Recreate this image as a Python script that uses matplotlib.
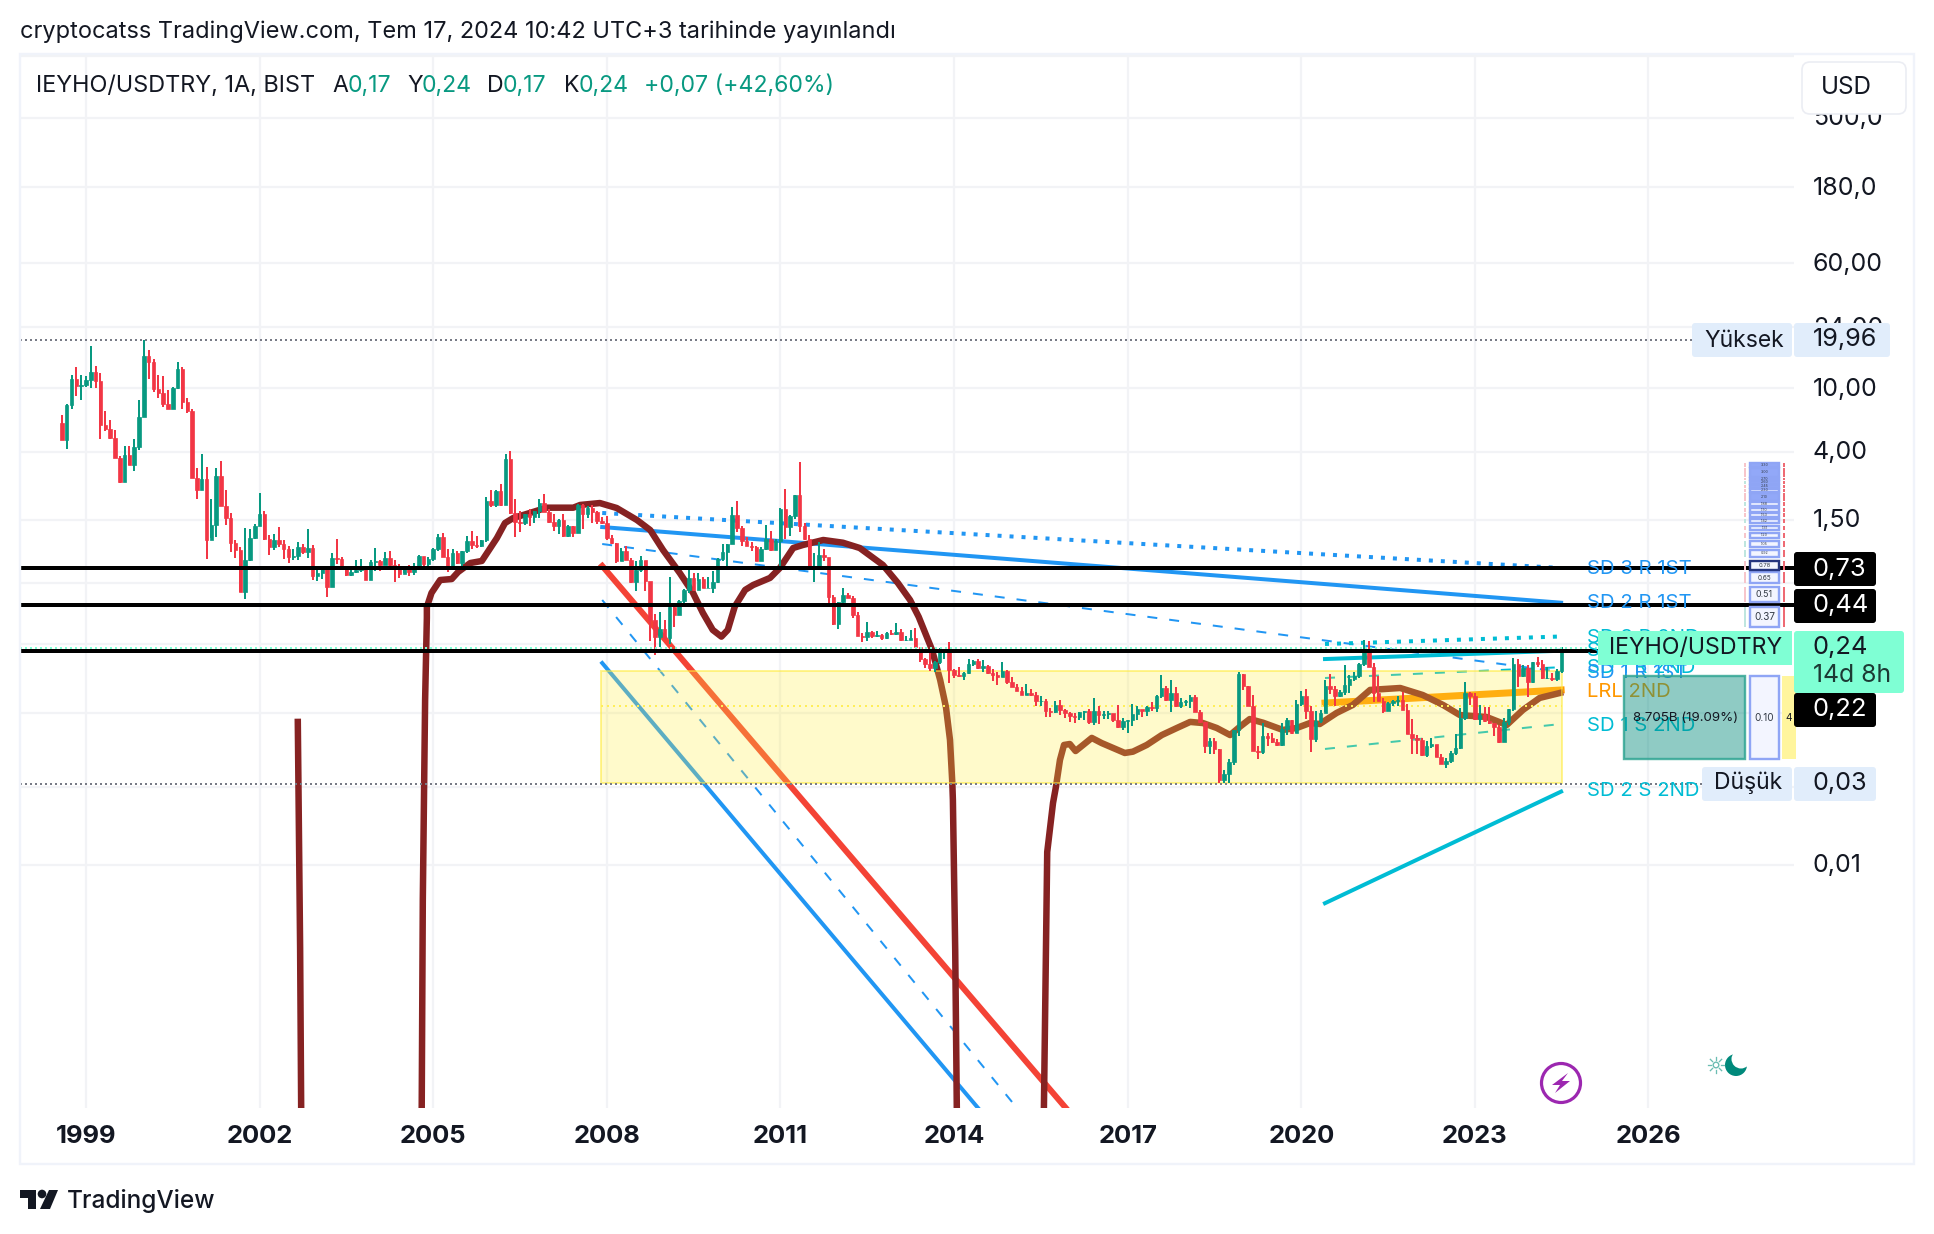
import numpy as np
import matplotlib
matplotlib.use("Agg")
import matplotlib.pyplot as plt
from matplotlib.patches import Rectangle, Circle, Polygon, FancyBboxPatch
from matplotlib.transforms import blended_transform_factory, ScaledTranslation

plt.rcParams['font.family'] = ['Inter', 'DejaVu Sans']

# ---- monthly candles, values as log10(price) ----
first_open_log10 = 0.78
close_log10 = [
 .675,.894,1.056,1.012,1.019,1.05,1.10,1.044,.769,.744,.685,.562,.415,.581,.519,.631,.819,1.20,1.162,.994,
 .969,.90,.869,1.0,1.119,.912,.856,.437,.362,.431,.05,.144,.45,.262,.187,.031,-.012,-.275,-.075,.062,
 .137,.212,.056,.006,.05,.025,-.006,-.056,-.05,.006,-.025,0,-.175,-.156,-.131,-.244,-.062,-.07,-.131,-.169,
 -.15,-.137,-.125,-.2,-.087,-.081,-.106,-.062,-.106,-.125,-.162,-.125,-.15,-.112,-.05,-.1,-.069,-.006,.069,-.056,
 -.119,-.031,-.094,-.019,.044,.019,.012,.048,.294,.269,.356,.269,.556,.219,.162,.156,.212,.194,.231,.281,
 .225,.162,.137,.175,.075,.137,.094,.269,.212,.25,.225,.169,.156,.062,.031,-.081,-.019,-.075,-.212,-.137,
 -.075,-.206,-.45,-.556,-.506,-.562,-.369,-.419,-.331,-.262,-.187,-.262,-.194,-.25,-.25,-.212,-.069,-.025,.025,.206,
 .125,.044,.012,.006,-.081,-.006,.056,-.012,.044,.244,.131,.2,.331,.137,.056,-.112,-.112,-.044,-.056,-.306,
 -.475,-.337,-.294,-.312,-.419,-.55,-.556,-.525,-.55,-.544,-.562,-.531,-.537,-.525,-.575,-.575,-.562,-.619,-.694,-.725,
 -.75,-.712,-.637,-.637,-.762,-.794,-.8,-.781,-.725,-.706,-.75,-.737,-.781,-.794,-.806,-.769,-.837,-.869,-.894,-.919,
 -.906,-.919,-.956,-.956,-1.019,-1.025,-.981,-1.012,-1.031,-1.05,-1.056,-1.025,-1.02,-1.087,-1.019,-1.044,-1.037,-1.031,-1.075,-1.119,
 -1.081,-1.075,-1.037,-1.006,-1.019,-.994,-1.0,-.925,-.875,-.95,-.906,-.987,-.962,-.956,-.931,-1.025,-1.087,-1.237,-1.206,-1.256,
 -1.45,-1.412,-1.337,-1.137,-.787,-.862,-.987,-1.269,-1.275,-1.175,-1.187,-1.212,-1.231,-1.131,-1.075,-1.156,-.975,-.925,-1.019,-1.194,
 -1.081,-1.031,-.862,-.881,-.925,-.9,-.856,-.819,-.8,-.725,-.637,-.744,-.908,-.956,-1.019,-.969,-.956,-.95,-1.012,-1.162,
 -1.187,-1.2,-1.294,-1.237,-1.225,-1.306,-1.35,-1.331,-1.281,-1.25,-1.062,-.906,-.925,-1.069,-1.044,-1.081,-1.094,-1.119,-1.212,-1.087,
 -1.006,-.725,-.8,-.75,-.837,-.712,-.725,-.812,-.812,-.819,-.769,-.631]
high_log10 = [
 .831,.90,1.081,1.131,1.081,1.075,1.262,1.137,1.094,.856,.80,.737,.575,.637,.637,.681,.925,1.30,1.237,1.181,
 1.081,1.075,.987,1.006,1.162,1.131,.937,.869,.50,.587,.506,.306,.50,.544,.362,.219,.05,.006,.125,.119,
 .15,.344,.231,.081,.087,.131,.05,.012,-.006,.037,.025,.119,.019,-.131,-.125,-.15,-.031,.056,-.056,-.112,
 -.125,-.075,-.069,-.125,-.075,0,-.075,-.025,-.019,-.075,-.1,-.12,-.106,-.094,-.044,-.056,-.056,0,.087,.094,
 -.006,-.006,-.019,-.019,.075,.106,.075,.05,.319,.362,.362,.40,.587,.606,.306,.231,.212,.244,.231,.306,
 .337,.244,.212,.181,.212,.144,.137,.275,.275,.262,.269,.231,.194,.2,.081,.031,0,.012,-.062,-.081,
 -.05,-.081,-.237,-.412,-.40,-.45,-.181,-.35,-.325,-.256,-.137,-.156,-.156,-.181,-.181,-.144,-.062,.025,.025,.256,
 .294,.137,.069,.037,.012,.006,.144,.106,.056,.25,.369,.206,.331,.537,.156,.081,-.031,.037,-.006,-.075,
 -.294,-.337,-.25,-.281,-.30,-.40,-.531,-.462,-.519,-.519,-.537,-.525,-.512,-.469,-.506,-.55,-.512,-.50,-.631,-.687,
 -.65,-.706,-.625,-.637,-.587,-.756,-.744,-.775,-.694,-.70,-.694,-.70,-.731,-.756,-.775,-.712,-.762,-.806,-.85,-.869,
 -.85,-.881,-.90,-.925,-.944,-1.0,-.956,-.95,-1.006,-1.025,-1.031,-1.025,-1.019,-1.006,-.937,-.987,-1.019,-1.019,-1.037,-.981,
 -1.062,-1.075,-.975,-.987,-1.012,-.987,-.962,-.919,-.794,-.862,-.825,-.869,-.937,-.95,-.919,-.919,-1.012,-1.087,-1.187,-1.187,
 -1.256,-1.387,-1.319,-1.137,-.775,-.787,-.862,-.919,-1.237,-1.094,-1.156,-1.156,-1.194,-1.094,-1.062,-1.075,-.95,-.894,-.881,-.987,
 -1.019,-1.012,-.825,-.787,-.862,-.887,-.731,-.794,-.775,-.719,-.575,-.581,-.719,-.80,-.937,-.962,-.95,-.925,-.90,-.975,
 -1.069,-1.169,-1.187,-1.206,-1.187,-1.231,-1.287,-1.312,-1.269,-1.162,-1.0,-.837,-.90,-.906,-.981,-.994,-.994,-1.094,-1.106,-1.062,
 -1.006,-.687,-.694,-.731,-.731,-.712,-.681,-.70,-.744,-.781,-.756,-.619]
low_log10 = [
 .675,.619,.869,.95,.925,1.006,1.0,1.0,.681,.731,.681,.562,.406,.412,.519,.481,.612,.819,1.056,.975,
 .937,.881,.869,.875,.994,.869,.844,.437,.306,.369,-.069,.062,.069,.262,.144,-.025,-.062,-.275,-.319,-.081,
 .056,.162,.05,-.044,-.012,.006,-.069,-.094,-.075,-.075,-.037,-.062,-.2,-.206,-.194,-.306,-.237,-.1,-.137,-.175,
 -.175,-.156,-.15,-.2,-.175,-.144,-.144,-.106,-.131,-.212,-.187,-.156,-.175,-.169,-.125,-.112,-.119,-.081,-.019,-.056,
 -.15,-.119,-.1,-.112,-.031,-.006,0,.006,.037,.258,.256,.262,.269,.212,.069,.1,.144,.137,.156,.187,
 .225,.156,.106,.087,.069,.069,.069,.094,.119,.187,.156,.15,.15,.05,.025,-.094,-.081,-.075,-.219,-.269,
 -.15,-.269,-.581,-.669,-.619,-.575,-.6,-.494,-.419,-.356,-.281,-.269,-.206,-.25,-.25,-.281,-.219,-.081,-.125,.025,
 .1,.012,.012,-.019,-.081,-.081,-.01,-.019,-.006,-.137,.056,.075,.181,.1,.05,-.137,-.212,-.112,-.081,-.35,
 -.481,-.506,-.362,-.312,-.437,-.55,-.587,-.581,-.562,-.556,-.575,-.569,-.544,-.544,-.581,-.581,-.575,-.619,-.712,-.75,
 -.769,-.775,-.725,-.694,-.844,-.812,-.806,-.825,-.787,-.737,-.756,-.775,-.787,-.831,-.856,-.806,-.85,-.869,-.894,-.919,
 -.919,-.925,-.987,-.987,-1.056,-1.056,-1.031,-1.044,-1.062,-1.087,-1.094,-1.075,-1.075,-1.1,-1.106,-1.1,-1.069,-1.069,-1.087,-1.125,
 -1.137,-1.156,-1.112,-1.075,-1.056,-1.05,-1.019,-1.025,-.937,-.956,-1.025,-.994,-1.0,-.987,-1.0,-1.025,-1.094,-1.281,-1.287,-1.287,
 -1.469,-1.469,-1.469,-1.356,-1.175,-.887,-.987,-1.269,-1.319,-1.287,-1.237,-1.219,-1.237,-1.237,-1.169,-1.162,-1.156,-.987,-1.069,-1.275,
 -1.212,-1.094,-1.025,-.912,-.987,-.931,-.919,-.906,-.831,-.812,-.737,-.744,-.962,-.956,-1.031,-1.012,-.987,-.987,-1.012,-1.162,
 -1.287,-1.287,-1.30,-1.306,-1.25,-1.306,-1.35,-1.375,-1.344,-1.294,-1.256,-1.075,-.981,-1.075,-1.106,-1.087,-1.10,-1.175,-1.219,-1.212,
 -1.106,-1.019,-.869,-.806,-.931,-.844,-.744,-.819,-.819,-.831,-.831,-.781]
first_year = 1998 + 7/12

# ---- moving average (three visible runs) ----
ma1_year = [2002.66, 2002.70, 2002.72]
ma1_log10 = [-1.087, -2.5, -3.6]
ma2_year = [2004.80,2004.82,2004.86,2004.89,2004.89,2004.97,2005.12,2005.32,2005.43,2005.64,2005.84,2006.10,2006.24,2006.38,
 2006.67,2006.96,2007.42,2007.54,2007.88,2008.17,2008.52,2008.75,2008.97,2009.26,2009.49,2009.66,2009.83,2009.98,2010.09,
 2010.21,2010.39,2010.53,2010.82,2010.99,2011.22,2011.39,2011.74,2012.08,2012.37,2012.77,2013.03,2013.24,2013.39,2013.62,
 2013.76,2013.86,2013.93,2013.97,2013.98,2014.02,2014.05]
ma2_log10 = [-3.575,-2.2,-.95,-.437,-.369,-.281,-.2,-.194,-.15,-.094,-.081,.062,.156,.187,.219,.252,.252,.269,.281,.25,.175,
 .112,-.012,-.156,-.281,-.406,-.512,-.554,-.512,-.367,-.262,-.231,-.187,-.125,0,.019,.05,.033,0,-.106,-.219,-.325,-.431,
 -.637,-.825,-.994,-1.2,-1.469,-1.575,-2.512,-3.575]
ma3_year = [2015.55,2015.61,2015.71,2015.76,2015.83,2015.90,2016.00,2016.10,2016.23,2016.38,2016.55,2016.75,2016.95,2017.09,
 2017.33,2017.59,2017.85,2018.08,2018.30,2018.54,2018.77,2018.94,2019.11,2019.34,2019.68,2019.92,2020.15,2020.32,2020.61,
 2020.89,2021.19,2021.71,2022.10,2022.45,2022.74,2023.20,2023.55,2023.83,2024.12,2024.47]
ma3_log10 = [-3.575,-1.9,-1.594,-1.494,-1.325,-1.231,-1.225,-1.269,-1.231,-1.187,-1.219,-1.25,-1.281,-1.273,-1.231,-1.169,
 -1.125,-1.087,-1.094,-1.125,-1.169,-1.117,-1.069,-1.092,-1.137,-1.125,-1.094,-1.1,-1.031,-.981,-.887,-.875,-.919,-.981,
 -1.044,-1.056,-1.106,-1.012,-.937,-.906]

# ---- regression channels: (start year, end year), (start, end) log10 price ----
ch1_years = [2007.92, 2024.49]
sd_1st_top_dotted = [.219, -.125]
sd_1st_upper = [.131, -.342]
sd_1st_mid_dash = [.025, -.775]
lrl_1st_years = [2007.92, 2016.05]
lrl_1st = [-.112, -3.55]
low_dash_years = [2007.92, 2015.20]
low_dash = [-.325, -3.55]
low_solid_years = [2007.92, 2014.59]
low_solid = [-.719, -3.575]
ch2_years = [2020.41, 2024.49]
sd_2nd_top_dotted = [-.6, -.553]
sd_2nd_upper = [-.694, -.642]
sd_2nd_up_dash = [-.8125, -.745]
lrl_2nd = [-.969, -.8875]
sd_2nd_low_dash = [-1.256, -1.10]
sd_2nd_lower = [-2.22, -1.5225]

# ---- levels ----
black_levels = [0.745, 0.443, 0.227]
box_years = [2007.9, 2024.5]
box_prices = [0.034, 0.170]
box_mid = 0.103
high_price = 19.96
low_price = 0.0335
last_price = 0.2385

# ---- price axis ----
grid_prices = [0.0105, 0.032, 0.093, 0.25, 0.6, 1.5, 4, 10, 24, 60, 180, 490, 1180]
grid_labels = ['0,01', '', '', '', '', '1,50', '4,00', '10,00', '24,00', '60,00', '180,0', '500,0', '']
year_ticks = [1999, 2002, 2005, 2008, 2011, 2014, 2017, 2020, 2023, 2026]

# ---- volume profile rows (log10 bottom, log10 top, label) ----
vp_bottom = [-1.319,-.492,-.336,-.219,-.137,-.056,.008,.0625,.1125,.156,.194,.225,.2625,.296,.35,.375,.40,.425,.446,.508]
vp_top =    [-.80,-.367,-.244,-.15,-.079,-.0125,.044,.096,.139,.181,.219,.252,.2875,.344,.369,.394,.419,.439,.50,.533]
vp_label = ['0.10','0.37','0.51','0.65','0.78','0.92','1.05','1.20','1.31','1.42','1.53','1.70','1.88','2.10','2.30','2.45','2.60','2.70','3.00','3.30']
vp_left_tint = ['#F7C6CB','#BFE6DF','#F7C6CB','#F7C6CB','#F7C6CB','#BFE6DF','#BFE6DF','#F7C6CB','#F7C6CB','#BFE6DF','#F7C6CB','#F7C6CB','#BFE6DF','#F7C6CB','#F7C6CB','#F7C6CB','#BFE6DF','#F7C6CB','#F7C6CB','#F7C6CB']

close = 10 ** np.array(close_log10)
high = 10 ** np.array(high_log10)
low = 10 ** np.array(low_log10)
opens = np.r_[10 ** first_open_log10, close[:-1]]
years = first_year + np.arange(len(close)) / 12

W, H = 1934, 1234
PX = 72 / 100  # one picture pixel in points
fig = plt.figure(figsize=(W / 100, H / 100), dpi=100, facecolor='white')

# pane: x 20..1794, y 54..1108
ax = fig.add_axes([20 / W, 1 - 1108 / H, (1794 - 20) / W, (1108 - 54) / H])
ax.set_yscale('log')
ax.set_xlim(1999 + (20 - 86) / 57.87, 1999 + (1794 - 86) / 57.87)
ax.set_ylim(10 ** ((548 - 1108) / 160), 10 ** ((548 - 54) / 160))
for s in ax.spines.values():
    s.set_visible(False)
ax.set_axisbelow(True)
ax.grid(True, color='#F2F3F6', lw=2.2 * PX)
ax.set_xticks(year_ticks)
ax.set_xticklabels([str(y) for y in year_ticks], fontsize=18.4, fontweight='bold', color='#131722')
ax.set_yticks(grid_prices)
ax.set_yticklabels(grid_labels, fontsize=18, color='#131722')
ax.minorticks_off()
ax.yaxis.tick_right()
ax.tick_params(axis='both', length=0)
ax.tick_params(axis='y', pad=19 * PX)
ax.tick_params(axis='x', pad=17 * PX)
lift = ScaledTranslation(0, 1.5 / 100, fig.dpi_scale_trans)
for lbl in ax.get_yticklabels():
    lbl.set_transform(lbl.get_transform() + lift)

def L(v):
    return 10 ** np.array(v)

# lines below the yellow box
blue, cyan = '#2196F3', '#00BCD4'
dot = (0, (1, 2))
ax.plot(ch1_years, L(sd_1st_top_dotted), color=blue, lw=4 * PX, ls=dot, zorder=2)
ax.plot(ch1_years, L(sd_1st_upper), color=blue, lw=4 * PX, zorder=2)
ax.plot(ch1_years, L(sd_1st_mid_dash), color=blue, lw=2 * PX, ls=(0, (5, 6)), zorder=2)
ax.plot(low_dash_years, L(low_dash), color=blue, lw=2 * PX, ls=(0, (5, 6)), zorder=2)
ax.plot(low_solid_years, L(low_solid), color=blue, lw=4 * PX, zorder=2)
ax.plot(lrl_1st_years, L(lrl_1st), color='#F44336', lw=6 * PX, zorder=2)
ax.plot(ch2_years, L(sd_2nd_top_dotted), color=cyan, lw=4 * PX, ls=dot, zorder=2)
ax.plot(ch2_years, L(sd_2nd_upper), color=cyan, lw=4 * PX, zorder=2)
ax.plot(ch2_years, L(sd_2nd_up_dash), color=cyan, lw=2 * PX, ls=(0, (5, 6)), zorder=2)
ax.plot(ch2_years, L(sd_2nd_low_dash), color=cyan, lw=2 * PX, ls=(0, (5, 6)), zorder=2)
ax.plot(ch2_years, L(sd_2nd_lower), color=cyan, lw=4 * PX, zorder=2)
ax.plot(ch2_years, L(lrl_2nd), color='#FF9800', lw=7 * PX, zorder=2)
for yr, lg in ((ma1_year, ma1_log10), (ma2_year, ma2_log10), (ma3_year, ma3_log10)):
    ax.plot(yr, L(lg), color='#862222', lw=6.5 * PX, solid_joinstyle='round', zorder=2.2)

# yellow box
ax.add_patch(Rectangle((box_years[0], box_prices[0]), box_years[1] - box_years[0], box_prices[1] - box_prices[0],
                       facecolor=(1, 0.93, 0.25, 0.27), edgecolor=(1, 0.92, 0.23, 0.55), lw=2 * PX, zorder=3))
ax.plot(box_years, [box_mid, box_mid], color='#FFEE58', lw=2 * PX, ls=(0, (1, 2)), zorder=3.1)

# candles
up_c, dn_c = '#089981', '#F23645'
colors = [up_c if c >= o else dn_c for c, o in zip(close, opens)]
ax.vlines(years, low, high, colors=colors, lw=2 * PX, zorder=4)
body_lo = np.minimum(opens, close)
body_hi = np.maximum(opens, close)
ax.bar(years, body_hi - body_lo, bottom=body_lo, width=3.5 / 57.87, color=colors, edgecolor=colors, lw=0.5, zorder=4.1)

# horizontal levels
for p in black_levels:
    ax.axhline(p, color='black', lw=4 * PX, zorder=5)
ax.plot([ax.get_xlim()[0], 1999 + (1692 - 86) / 57.87], [high_price] * 2, color='#787B86', lw=2 * PX, ls=(0, (1, 1.5)), zorder=5)
ax.plot([ax.get_xlim()[0], 1999 + (1702 - 86) / 57.87], [low_price] * 2, color='#787B86', lw=2 * PX, ls=(0, (1, 1.5)), zorder=5)
ax.plot([ax.get_xlim()[0], 1999 + (1598 - 86) / 57.87], [last_price] * 2, color='#7FFFD4', lw=2 * PX, ls=(0, (1, 1.5)), zorder=5)

# overlay in picture pixels for the page furniture
ov = fig.add_axes([0, 0, 1, 1], zorder=10)
ov.set_xlim(0, W)
ov.set_ylim(H, 0)
ov.axis('off')

def T(x, y, s, size=16, color='#131722', ha='left', va='center', **kw):
    return ov.text(x, y, s, fontsize=size, color=color, ha=ha, va=va, **kw)

def box(x0, y0, x1, y1, fc, ec='none', lw=0, r=0, z=1):
    if r:
        p = FancyBboxPatch((x0 + r, y0 + r), x1 - x0 - 2 * r, y1 - y0 - 2 * r,
                           boxstyle=f'round,pad={r},rounding_size={r}', fc=fc, ec=ec, lw=lw, zorder=z)
    else:
        p = Rectangle((x0, y0), x1 - x0, y1 - y0, fc=fc, ec=ec, lw=lw, zorder=z)
    ov.add_patch(p)

# frame
ov.add_patch(Rectangle((20, 54), 1894, 1110, fc='none', ec='#F0F3FA', lw=2.4 * PX, zorder=0.5))

# heading and legend
T(20, 32, 'cryptocatss TradingView.com, Tem 17, 2024 10:42 UTC+3 tarihinde yayınlandı', size=16.95)
T(36, 86, 'IEYHO/USDTRY, 1A, BIST', size=16.9)
green = '#089981'
for x, s, c in [(332, 'A', '#131722'), (348, '0,17', green), (407, 'Y', '#131722'), (422, '0,24', green),
                (487, 'D', '#131722'), (503, '0,17', green), (564, 'K', '#131722'), (579, '0,24', green),
                (644, '+0,07 (+42,60%)', green)]:
    T(x, 86, s, size=16.6, color=c)

# USD box
box(1802, 62, 1906, 114, 'white', '#EBEDF3', 1.2, r=8, z=2)
T(1846, 87, 'USD', size=17.5, ha='center', zorder=3)

# channel labels
ch = '#00BCD4'
for y, s, c in [(569, 'SD 3 R 1ST', blue), (603, 'SD 2 R 1ST', blue), (638, 'SD 3 R 2ND', ch), (651, 'SD 2 R 2ND', ch),
                (668, 'SD 1 R 2ND', ch), (673, 'SD 1 R 1ST', blue), (692, 'LRL 2ND', '#FF9800'),
                (726, 'SD 1 S 2ND', ch), (791, 'SD 2 S 2ND', ch)]:
    T(1587, y, s, size=14.6, color=c, zorder=1.5)

# volume profile
px_y = blended_transform_factory(ov.transData, ax.transData)
for i, (b, t, lab, tint) in enumerate(zip(vp_bottom, vp_top, vp_label, vp_left_tint)):
    pb, pt = 10 ** b, 10 ** t
    face = '#92A8F8' if i >= 13 and i != 14 else '#F3F5FF'
    edge = '#25357F' if i == 4 else '#8FA5F5'
    ov.add_patch(Rectangle((1750, pb), 29, pt - pb, transform=px_y, fc=face, ec=edge, lw=2.4 * PX, zorder=2))
    size = [7.2, 7.2, 6.4, 4.6, 4.2][i] if i < 5 else 2.6
    ov.text(1764.5, 10 ** ((b + t) / 2), lab, transform=px_y, fontsize=size, color='#333a45', ha='center', va='center', zorder=2.2)
    if i > 0:
        ov.add_patch(Rectangle((1743.5, pb), 2, pt - pb, transform=px_y, fc=tint, ec='none', zorder=2))
        ov.add_patch(Rectangle((1782.5, pb), 2.2, pt - pb, transform=px_y, fc='#EE6A74', ec='none', zorder=2))

# value area boxes
box(1624, 676, 1745, 759, (0.0, 0.54, 0.48, 0.44), (0.2, 0.65, 0.58, 0.85), 2.4 * PX, z=2)
T(1686, 718, '8.705B (19.09%)', size=9.6, ha='center', zorder=2.5)
box(1782, 676, 1796, 759, '#FFF59D', 'none', 0, z=2)
T(1789, 718, '4', size=7.2, ha='center', zorder=2.5)

# price labels
for yc, s in [(569, '0,73'), (606, '0,44'), (710, '0,22')]:
    box(1794, yc - 17, 1876, yc + 17, 'black', r=3, z=4)
    T(1813, yc, s, size=18.4, color='white', zorder=5)
box(1598, 631, 1792, 665, '#7FFFD4', z=3)
box(1792, 631, 1794, 665, 'white', z=3)
T(1609, 648, 'IEYHO/USDTRY', size=16.7, color='#131722', zorder=3.5)
box(1794, 631, 1904, 693, '#7FFFD4', r=3, z=3)
T(1813, 647, '0,24', size=18.4, zorder=3.5)
T(1813, 675, '14d 8h', size=17.8, color='#1c3a34', zorder=3.5)
box(1692, 323, 1792, 357, '#E1EDFB', r=3, z=3)
T(1704, 341, 'Yüksek', size=16.5, zorder=3.5)
box(1794, 323, 1890, 357, '#E1EDFB', r=3, z=3)
T(1813, 340, '19,96', size=18.2, zorder=3.5)
box(1702, 767, 1792, 801, '#E1EDFB', r=3, z=3)
T(1714, 783, 'Düşük', size=16.5, zorder=3.5)
box(1794, 767, 1876, 801, '#E1EDFB', r=3, z=3)
T(1813, 784, '0,03', size=18.2, zorder=3.5)

# lightning icon
ov.add_patch(Circle((1561, 1083), 19.5, fc='white', ec='#9C27B0', lw=3.2 * PX, zorder=3))
ov.add_patch(Polygon([(1568, 1073), (1552, 1085), (1560, 1085), (1555, 1093), (1570, 1081), (1562, 1081)],
                     fc='#9C27B0', ec='none', zorder=3.1))

# sun / moon icon
ov.add_patch(Circle((1736, 1065), 11, fc='#00897B', ec='none', zorder=3))
ov.add_patch(Circle((1741, 1059), 9.5, fc='white', ec='none', zorder=3.1))
ov.add_patch(Circle((1716, 1065), 2.8, fc='white', ec='#6CBDB3', lw=1.4 * PX, zorder=3))
for a in np.arange(8) * np.pi / 4:
    ov.plot([1716 + 4.8 * np.cos(a), 1716 + 8 * np.cos(a)], [1065 + 4.8 * np.sin(a), 1065 + 8 * np.sin(a)],
            color='#6CBDB3', lw=1.3 * PX, zorder=3)

# TradingView logo
logo = '#131722'
ov.add_patch(Polygon([(20, 1190), (36, 1190), (36, 1209), (28, 1209), (28, 1198), (20, 1198)], fc=logo, ec='none'))
ov.add_patch(Circle((42, 1194), 4.3, fc=logo, ec='none'))
ov.add_patch(Polygon([(49, 1190), (58, 1190), (50, 1209), (40, 1209)], fc=logo, ec='none'))
T(67, 1201, 'TradingView', size=17.6, color='#131722', fontweight='medium')

fig.savefig('out.png', dpi=100, facecolor='white')
